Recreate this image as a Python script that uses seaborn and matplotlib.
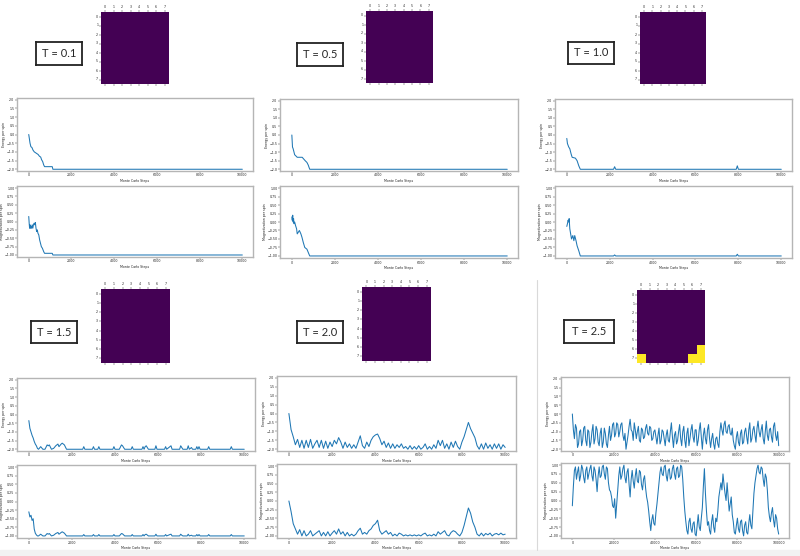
import numpy as np
import pandas as pd
import seaborn as sns
import matplotlib
matplotlib.use('agg')
import matplotlib.pyplot as plt
from matplotlib.patches import Rectangle
from matplotlib.lines import Line2D

# ---- final 8x8 lattices (spin -1 / +1) ----
lattice_ordered = [[-1] * 8 for _ in range(8)]
lattice_25 = [
    [-1, -1, -1, -1, -1, -1, -1, -1],
    [-1, -1, -1, -1, -1, -1, -1, -1],
    [-1, -1, -1, -1, -1, -1, -1, -1],
    [-1, -1, -1, -1, -1, -1, -1, -1],
    [-1, -1, -1, -1, -1, -1, -1, -1],
    [-1, -1, -1, -1, -1, -1, -1, -1],
    [-1, -1, -1, -1, -1, -1, -1, 1],
    [1, -1, -1, -1, -1, -1, 1, 1],
]

# ---- T = 0.1 ----
steps_e_01 = [0, 30, 60, 100, 150, 200, 260, 320, 380, 440, 500, 560, 600, 650, 700, 740, 1100, 1130, 10000]
energy_01 = [0.0, -0.25, -0.5, -0.7, -0.75, -0.9, -1.0, -1.05, -1.1, -1.15, -1.25, -1.3, -1.45, -1.55, -1.75,
             -1.85, -1.85, -2.0, -2.0]
steps_m_01 = [0, 20, 40, 60, 80, 100, 130, 160, 190, 220, 250, 280, 310, 340, 370, 400, 430, 470, 510, 550, 590,
              640, 700, 740, 1100, 1130, 10000]
mag_01 = [0.15, -0.05, -0.2, -0.1, -0.2, -0.15, -0.2, -0.1, -0.2, -0.1, -0.05, -0.1, -0.03, -0.2, -0.3, -0.25,
          -0.35, -0.4, -0.55, -0.65, -0.75, -0.8, -0.9, -0.95, -0.95, -1.0, -1.0]

# ---- T = 0.5 ----
steps_e_05 = [0, 30, 60, 100, 130, 170, 250, 480, 550, 620, 700, 760, 830, 10000]
energy_05 = [0.0, -0.7, -0.8, -1.0, -1.15, -1.2, -1.3, -1.3, -1.4, -1.5, -1.6, -1.75, -2.0, -2.0]
steps_m_05 = [0, 20, 40, 60, 80, 100, 130, 170, 220, 250, 300, 350, 420, 470, 530, 600, 700, 830, 10000]
mag_05 = [0.15, 0.05, 0.2, 0.0, 0.1, -0.05, 0.0, -0.1, -0.2, -0.35, -0.3, -0.25, -0.35, -0.45, -0.6, -0.75,
          -0.8, -1.0, -1.0]

# ---- T = 1.0 ----
steps_e_10 = [0, 30, 90, 140, 200, 250, 400, 480, 560, 630, 2180, 2230, 2280, 7900, 7950, 8000, 10000]
energy_10 = [-0.2, -0.5, -0.7, -0.8, -1.1, -1.3, -1.35, -1.5, -1.8, -2.0, -2.0, -1.85, -2.0, -2.0, -1.8, -2.0, -2.0]
steps_m_10 = [0, 30, 60, 90, 110, 140, 220, 280, 330, 370, 430, 480, 560, 630, 2180, 2230, 2280, 7900, 7950,
              8000, 10000]
mag_10 = [-0.13, -0.05, 0.05, 0.0, 0.1, -0.2, -0.5, -0.4, -0.55, -0.4, -0.55, -0.7, -0.85, -1.0, -1.0, -0.97,
          -1.0, -1.0, -0.95, -1.0, -1.0]

# ---- T = 1.5 ----
steps_15 = [0, 50, 100, 150, 200, 250, 300, 350, 400, 450, 550, 650, 750, 850, 900, 950, 1050, 1150, 1250, 1350,
            1400, 1500, 1550, 1650, 1750, 2500, 2550, 2600, 2950, 3000, 3050, 3200, 3250, 3300, 3900, 3950, 4000,
            4200, 4300, 4350, 4450, 4750, 4800, 4850, 5250, 5300, 5350, 5400, 5450, 5550, 5850, 5900, 5950, 6300,
            6350, 6400, 6550, 6600, 6650, 7000, 7050, 7100, 7150, 7350, 7400, 7450, 7550, 7600, 7750, 7800, 7850,
            7900, 7950, 8300, 8350, 8400, 9350, 9400, 9450, 10000]
energy_15 = [-0.35, -0.8, -1.0, -1.2, -1.35, -1.55, -1.7, -1.8, -1.95, -2.0, -1.85, -2.0, -2.0, -1.75, -1.8,
             -1.75, -2.0, -1.95, -1.8, -1.7, -1.85, -1.7, -1.65, -1.75, -2.0, -2.0, -1.85, -2.0, -2.0, -1.85,
             -2.0, -2.0, -1.85, -2.0, -2.0, -1.85, -2.0, -2.0, -1.75, -1.8, -2.0, -2.0, -1.85, -2.0, -2.0, -1.85,
             -2.0, -1.85, -1.8, -2.0, -2.0, -1.8, -2.0, -2.0, -1.85, -2.0, -1.85, -1.8, -2.0, -2.0, -1.8, -1.9,
             -2.0, -2.0, -1.8, -2.0, -1.9, -2.0, -2.0, -1.85, -2.0, -1.85, -2.0, -2.0, -1.85, -2.0, -2.0, -1.85,
             -2.0, -2.0]
mag_15 = [-0.3, -0.45, -0.4, -0.55, -0.5, -0.8, -0.92, -0.97, -1.0, -1.0, -0.95, -1.0, -1.0, -0.93, -0.95,
          -0.93, -1.0, -0.98, -0.93, -0.9, -0.95, -0.9, -0.88, -0.92, -1.0, -1.0, -0.96, -1.0, -1.0, -0.96,
          -1.0, -1.0, -0.96, -1.0, -1.0, -0.96, -1.0, -1.0, -0.93, -0.94, -1.0, -1.0, -0.96, -1.0, -1.0, -0.96,
          -1.0, -0.96, -0.95, -1.0, -1.0, -0.95, -1.0, -1.0, -0.96, -1.0, -0.96, -0.95, -1.0, -1.0, -0.95, -0.98,
          -1.0, -1.0, -0.95, -1.0, -0.98, -1.0, -1.0, -0.96, -1.0, -0.96, -1.0, -1.0, -0.96, -1.0, -1.0, -0.96,
          -1.0, -1.0]

# ---- T = 2.0 (sampled every 100 steps) ----
steps_20 = list(range(0, 10001, 100))
energy_20 = [0.0, -0.9, -1.3, -1.75, -1.45, -1.9, -1.5, -1.95, -1.5, -1.9,
             -1.45, -1.95, -1.7, -1.5, -1.9, -1.5, -1.95, -1.55, -1.95, -1.6,
             -1.85, -1.5, -1.7, -1.35, -1.6, -1.95, -1.6, -1.9, -1.7, -1.95,
             -1.75, -1.95, -1.6, -1.25, -1.8, -1.95, -1.6, -1.85, -1.5, -1.3,
             -1.2, -1.15, -1.4, -1.75, -1.55, -1.9, -1.65, -1.95, -1.7, -1.95,
             -1.75, -1.9, -1.7, -1.95, -1.85, -2.0, -1.8, -2.0, -1.85, -2.0,
             -1.8, -2.0, -1.9, -1.7, -2.0, -1.85, -2.0, -1.75, -1.95, -1.5,
             -1.8, -1.5, -1.95, -1.7, -2.0, -1.6, -1.9, -1.55, -1.85, -2.0,
             -1.6, -1.3, -0.9, -0.5, -0.85, -1.1, -1.35, -1.8, -2.0, -1.7,
             -2.0, -1.65, -1.95, -1.75, -2.0, -1.7, -1.95, -1.7, -2.0, -1.75,
             -1.9]
mag_20 = [0.0, -0.3, -0.65, -0.8, -0.95, -0.82, -1.0, -0.85, -1.0, -0.95,
          -0.85, -1.0, -0.95, -0.9, -0.85, -1.0, -0.9, -1.0, -0.88, -1.0,
          -0.92, -0.85, -0.95, -0.8, -0.95, -0.88, -1.0, -0.9, -1.0, -0.95,
          -1.0, -0.95, -0.85, -0.78, -0.95, -0.9, -0.95, -0.85, -0.8, -0.7,
          -0.65, -0.55, -0.85, -0.95, -0.9, -0.85, -0.95, -0.9, -1.0, -0.95,
          -1.0, -0.92, -0.95, -1.0, -0.97, -1.0, -0.97, -1.0, -0.97, -1.0,
          -0.97, -1.0, -0.95, -0.92, -1.0, -0.97, -1.0, -0.95, -1.0, -0.88,
          -0.95, -0.9, -0.85, -0.97, -1.0, -0.9, -0.85, -0.88, -0.95, -1.0,
          -0.9, -0.7, -0.45, -0.2, -0.35, -0.6, -0.75, -0.95, -1.0, -0.92,
          -1.0, -0.93, -0.97, -0.92, -1.0, -0.95, -0.93, -0.97, -0.92, -0.97,
          -0.95]

# ---- T = 2.5 (sampled every 500 steps) ----
steps_25 = list(range(0, 100001, 500))
energy_25 = [0.0, -0.9, -1.4, -0.6, -0.8, -1.9, -1.7, -1.0, -0.9, -1.8, -1.5, -0.8, -0.7, -1.5, -1.8, -0.9, -1.0, -1.9, -1.6, -1.0,
             -0.6, -1.7, -1.4, -0.7, -0.9, -1.6, -1.8, -1.1, -0.8, -1.9, -1.6, -0.8, -1.1, -1.7, -1.9, -1.2, -0.7, -1.5, -1.2, -0.6,
             -0.5, -1.3, -1.1, -0.5, -0.6, -1.3, -1.0, -0.6, -0.5, -1.2, -1.5, -1.1, -2.0, -1.6, -1.2, -0.7, -0.3, -0.9, -1.0, -1.5,
             -0.5, -0.9, -1.4, -1.0, -0.7, -1.5, -1.6, -0.8, -0.9, -1.4, -1.3, -0.8, -0.6, -1.1, -1.2, -0.7, -0.8, -1.5, -1.4, -1.0,
             -0.9, -1.3, -1.7, -1.2, -0.8, -1.7, -1.5, -0.9, -1.0, -1.4, -1.8, -1.2, -0.9, -1.5, -1.6, -1.0, -0.5, -1.3, -1.9, -1.2,
             -1.0, -1.7, -1.5, -1.0, -0.6, -1.4, -1.8, -1.0, -0.7, -1.5, -1.9, -1.1, -0.8, -1.8, -1.4, -0.9, -0.6, -1.3, -1.6, -0.9,
             -0.9, -1.8, -1.5, -0.9, -0.5, -1.3, -2.0, -1.2, -0.8, -1.4, -1.7, -0.9, -0.6, -1.4, -1.9, -1.4, -1.1, -1.7, -2.0, -1.4,
             -1.3, -1.7, -1.9, -1.0, -0.5, -0.9, -1.2, -0.6, -0.4, -1.0, -1.1, -0.7, -0.6, -1.1, -1.2, -0.8, -1.5, -1.8, -2.0, -1.3,
             -1.0, -1.6, -1.8, -1.1, -0.9, -1.7, -1.6, -1.0, -0.8, -1.3, -1.7, -0.9, -0.5, -1.6, -1.4, -0.9, -0.7, -1.2, -1.6, -0.8,
             -0.4, -1.0, -1.3, -0.9, -0.6, -1.4, -1.7, -1.0, -0.4, -1.2, -1.5, -0.9, -0.8, -1.3, -1.6, -0.7, -0.5, -1.2, -1.5, -1.0,
             -1.8]
mag_25 = [-0.15, 0.4, 0.85, 0.95, 0.6, 0.8, 0.95, 0.55, 0.7, 1.0, 0.9, 0.65, 0.5, 0.85, 0.95, 0.6, 0.75, 0.9, 1.0, 0.7,
          0.55, 0.95, 0.85, 0.6, 0.25, 0.7, 0.95, 0.65, 0.7, 0.95, 1.0, 0.75, 0.6, 0.95, 0.9, 0.5, 0.3, 0.25, 0.1, -0.15,
          -0.2, 0.05, -0.5, -0.1, 0.3, 0.7, 0.95, 0.6, 0.7, 0.9, 1.0, 0.65, 0.5, 0.8, 0.9, 0.45, 0.1, 0.6, 0.85, 0.55,
          0.35, 0.7, 0.9, 0.55, 0.5, 0.85, 0.8, 0.45, 0.3, 0.6, 0.7, 0.35, 0.1, -0.05, -0.3, -0.6, -0.85, -0.55, -0.4, -0.65,
          -0.7, -0.35, -0.1, 0.2, 0.5, 0.8, 0.95, 0.75, 0.7, 0.95, 1.0, 0.7, 0.55, 0.85, 0.9, 0.6, 0.65, 0.9, 1.0, 0.75,
          0.6, 0.9, 0.95, 0.65, 0.7, 1.0, 0.95, 0.6, 0.1, -0.3, -0.6, -0.85, -0.95, -0.6, -0.5, -0.8, -0.9, -0.65, -0.6, -0.95,
          -1.0, -0.7, -0.4, -0.75, -0.85, -0.5, -0.2, 0.4, 0.9, 0.2, -0.3, -0.7, -0.6, -0.85, -0.95, -0.6, -0.4, -0.75, -0.9, -0.5,
          -0.6, -0.3, 0.1, 0.3, 0.5, 0.3, 0.75, 0.45, 0.2, 0.0, 0.5, 0.1, -0.3, -0.1, 0.1, -0.4, -0.6, -0.9, -0.95, -0.7,
          -0.5, -0.8, -0.9, -0.6, -0.55, -0.85, -1.0, -0.7, -0.6, -0.9, -0.95, -0.65, -0.4, -0.7, -0.8, -0.3, 0.2, 0.5, 0.7, 0.9,
          1.0, 0.8, 0.75, 0.95, 0.9, 0.6, 0.4, 0.75, 0.65, 0.3, -0.2, -0.45, -0.6, -0.35, -0.2, -0.55, -0.75, -0.4, -0.5, -0.8,
          -0.95]

W, H = 800, 556


def box(x0, y0, x1, y1):
    # pixel box (top-left origin) -> figure fraction
    return [x0 / W, 1 - y1 / H, (x1 - x0) / W, (y1 - y0) / H]


# layout: lattice, label, energy, magnetization (pixels)
panels = [
    ('T = 0.1', lattice_ordered, (steps_e_01, energy_01), (steps_m_01, mag_01), 10000,
     [(101, 12, 169, 84), (36, 42, 82, 65), (17, 98, 253, 171), (17, 186, 253, 257)]),
    ('T = 0.5', lattice_ordered, (steps_e_05, energy_05), (steps_m_05, mag_05), 10000,
     [(366, 11, 433, 83), (297, 43, 343, 66), (280, 99, 518, 171), (280, 186, 518, 258)]),
    ('T = 1.0', lattice_ordered, (steps_e_10, energy_10), (steps_m_10, mag_10), 10000,
     [(640, 12, 706, 84), (568, 42, 614, 64), (555, 99, 792, 171), (555, 186, 792, 258)]),
    ('T = 1.5', lattice_ordered, (steps_15, energy_15), (steps_15, mag_15), 10000,
     [(101, 289, 170, 363), (31, 321, 77, 343), (17, 378, 255, 451), (17, 465, 255, 538)]),
    ('T = 2.0', lattice_ordered, (steps_20, energy_20), (steps_20, mag_20), 10000,
     [(362, 287, 431, 361), (297, 321, 343, 343), (277, 376, 516, 451), (277, 464, 516, 538)]),
    ('T = 2.5', lattice_25, (steps_25, energy_25), (steps_25, mag_25), 100000,
     [(637, 290, 705, 363), (564, 320, 614, 343), (561, 377, 789, 451), (561, 463, 789, 538)]),
]

LINE = '#1f77b4'
TICK_FS = 2.3


def draw_lattice(ax, grid):
    sns.heatmap(pd.DataFrame(grid), ax=ax, cmap='viridis', vmin=-1, vmax=1, cbar=False,
                xticklabels=list(range(8)), yticklabels=list(range(8)))
    ax.xaxis.set_ticks_position('both')
    ax.tick_params(axis='x', labeltop=True, labelbottom=False, labelsize=TICK_FS,
                   length=1.2, width=0.3, pad=0.8, labelrotation=0)
    ax.tick_params(axis='y', labelsize=TICK_FS, length=1.2, width=0.3, pad=0.8, labelrotation=0)


def draw_label(ax, text):
    ax.set_xticks([])
    ax.set_yticks([])
    for sp in ax.spines.values():
        sp.set_linewidth(1.3)
        sp.set_color('#222222')
    ax.text(0.5, 0.5, text, ha='center', va='center', fontsize=8, family=['Lato', 'DejaVu Sans'])


def draw_series(ax, steps, vals, ylabel, yticks, ylim, xmax):
    sns.lineplot(x=steps, y=vals, ax=ax, color=LINE, linewidth=0.75)
    ax.set_yticks(yticks)
    ax.set_ylim(*ylim)
    ax.set_xticks(np.linspace(0, xmax, 6))
    ax.set_xlim(-0.055 * xmax, 1.05 * xmax)
    ax.set_ylabel(ylabel, fontsize=TICK_FS, labelpad=0.5)
    ax.set_xlabel('Monte Carlo Steps', fontsize=TICK_FS, labelpad=1)
    ax.tick_params(labelsize=TICK_FS, length=1.2, width=0.3, pad=0.6)
    for sp in ax.spines.values():
        sp.set_linewidth(1.0)
        sp.set_color('#b5b5b5')


sns.set_theme(style='ticks')
fig = plt.figure(figsize=(8, 5.56), dpi=100)
fig.patch.set_facecolor('white')

for label, grid, (se, ev), (sm, mv), xmax, boxes in panels:
    draw_lattice(fig.add_axes(box(*boxes[0])), grid)
    draw_label(fig.add_axes(box(*boxes[1])), label)
    draw_series(fig.add_axes(box(*boxes[2])), se, ev, 'Energy per spin',
                [-2.0, -1.5, -1.0, -0.5, 0.0, 0.5, 1.0, 1.5, 2.0], (-2.1, 2.1), xmax)
    draw_series(fig.add_axes(box(*boxes[3])), sm, mv, 'Magnetization per spin',
                [-1.0, -0.75, -0.5, -0.25, 0.0, 0.25, 0.5, 0.75, 1.0], (-1.06, 1.06), xmax)

# screenshot-style separator and bottom strip
fig.add_artist(Line2D([537 / W, 537 / W], [1 - 550 / H, 1 - 280 / H], color='#d9d9d9', lw=0.8))
fig.add_artist(Rectangle((0, 0), 1, 6 / H, transform=fig.transFigure, color='#f2f2f2', zorder=-1))

fig.savefig('out.png', dpi=100)
